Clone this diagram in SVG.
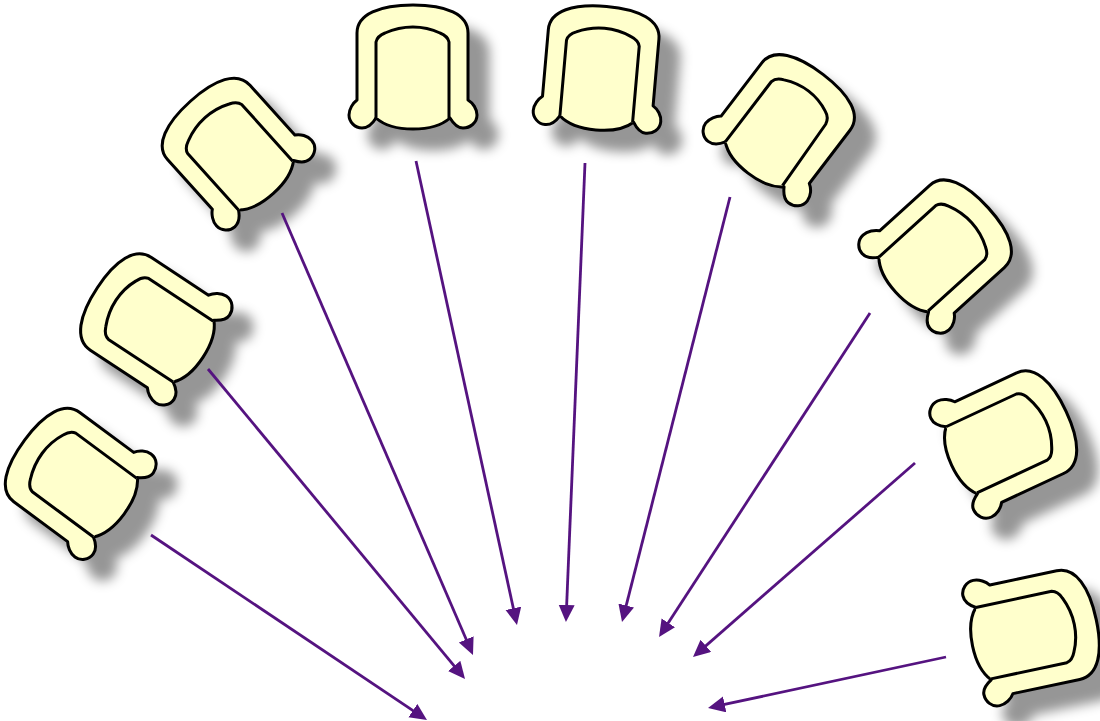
<svg xmlns="http://www.w3.org/2000/svg" width="1100" height="721" viewBox="0 0 1100 721">
<style>
.chair{filter:url(#sh)}
.o,.i{fill:#ffffcc;stroke:#000;stroke-width:3;stroke-linejoin:round}
.c{stroke:#551380;stroke-width:2.8;fill:none;marker-end:url(#ah)}
</style>
<defs>
<filter id="sh" x="-30%" y="-30%" width="170%" height="170%" color-interpolation-filters="sRGB"><feDropShadow dx="20" dy="20" stdDeviation="6" flood-color="#969696"/></filter>
<marker id="ah" markerUnits="userSpaceOnUse" markerWidth="20" markerHeight="18" refX="11" refY="8" orient="auto"><path d="M0,0L17,8L0,16Z" fill="#551380"/></marker>
<path id="outer" class="o" d="M-56,-15 L-56,-82 C-56,-101 -33,-110 0,-110 C33,-110 55,-101 55,-82 L55,-15 C60,-12 64,-6 64,0 C64,8 57,13 50,13 C44,13 40,8 37,3 C28,11 14,14 0,14 C-14,14 -28,11 -37,3 C-40,8 -44,13 -51,13 C-58,13 -64,7 -64,0 C-64,-6 -60,-12 -56,-15Z"/>
<g id="chair">
<use href="#outer"/>
<path class="i" d="M-37,3 L-37,-73 C-36,-78 -33,-80 -28,-82 C-10,-90 10,-90 27,-82 C32,-80 35,-78 36,-73 L36,3"/>
</g>
<g id="chairB">
<use href="#outer"/>
<path class="i" d="M-37,3 L-37,-73 C-36,-78 -33,-80 -28,-82 C-11,-90 8,-90 24,-82 C29,-80 31,-77 32,-72 L35,3"/>
</g>
</defs>
<g id="n1" class="chair"><use href="#chair" transform="translate(113,505.5) rotate(-53.5)"/></g>
<g id="n2" class="chair"><use href="#chair" transform="translate(191,349.5) rotate(-56.6) scale(1,1.02)"/></g>
<g id="n3" class="chair"><use href="#chair" transform="translate(264,183) rotate(-42)"/></g>
<g id="n4" class="chair"><use href="#chair" transform="translate(413,115)"/></g>
<g id="n5" class="chair"><use href="#chair" transform="translate(597,116) rotate(5)"/></g>
<g id="n6" class="chair"><use href="#chairB" transform="translate(756.5,162) rotate(37.4)"/></g>
<g id="n7" class="chair"><use href="#chair" transform="translate(906,282.5) rotate(47.8) scale(1,1.01)"/></g>
<g id="n8" class="chair"><use href="#chair" transform="translate(964.5,459) rotate(65) scale(1,1.02)"/></g>
<g id="n9" class="chair"><use href="#chair" transform="translate(986.5,643) rotate(78) scale(1,1.02)"/></g>
<g id="connectors">
<line class="c" x1="151" y1="535" x2="422" y2="716.7"/>
<line class="c" x1="208" y1="369" x2="461.2" y2="674.4"/>
<line class="c" x1="282" y1="213" x2="470.6" y2="649.5"/>
<line class="c" x1="416" y1="161" x2="515.7" y2="619.1"/>
<line class="c" x1="585" y1="163" x2="566.2" y2="616"/>
<line class="c" x1="730" y1="197" x2="623.5" y2="616.2"/>
<line class="c" x1="870" y1="313" x2="662.3" y2="632"/>
<line class="c" x1="915" y1="463" x2="697.5" y2="653.1"/>
<line class="c" x1="946" y1="657" x2="713.9" y2="706.7"/>
</g>
</svg>
